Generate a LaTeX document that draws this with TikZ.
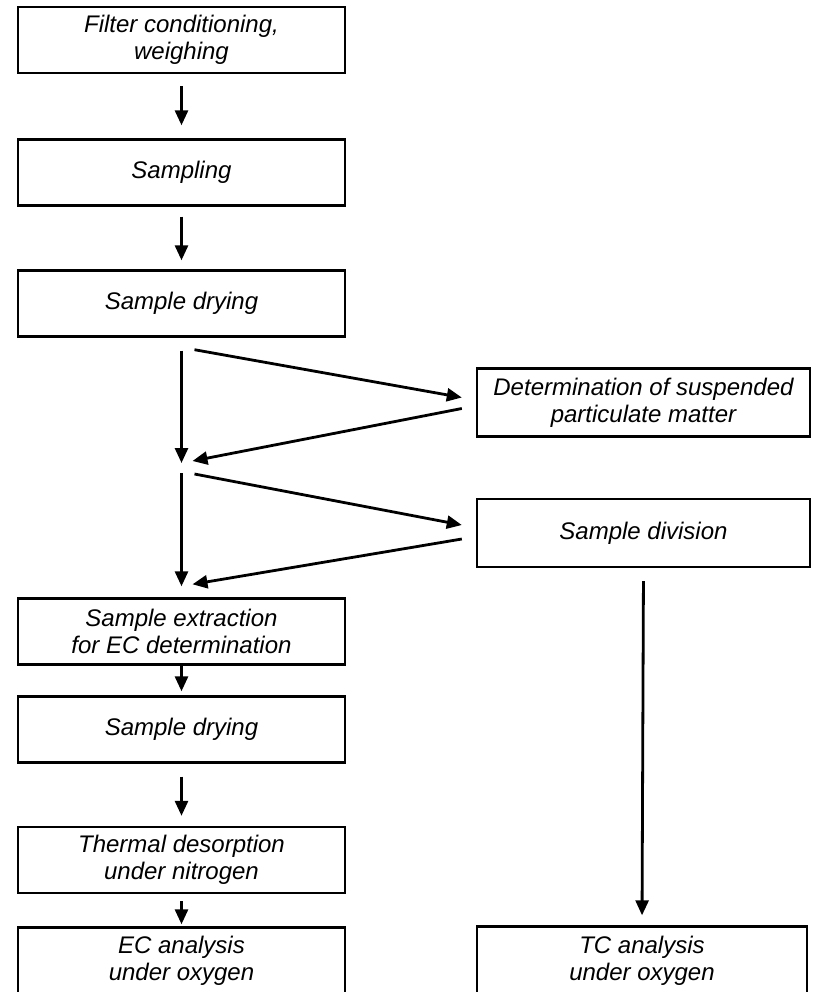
\documentclass[tikz,border=0pt]{standalone}
\usepackage{fontspec}
\setmainfont{Liberation Sans}
\usetikzlibrary{arrows.meta,calc}
\tikzset{
  lepes/.style={draw,line width=1.2pt,minimum width=163.5pt,minimum height=33pt,
    inner sep=0pt,align=center,font=\itshape\fontsize{12}{13.5}\selectfont},
  jobb/.style={lepes,minimum width=166.5pt,minimum height=34pt},
  nyil/.style={line width=1.4pt,-{Triangle[length=7.5pt,width=6.5pt]}},
}

\begin{document}
\begin{tikzpicture}[x=0.5pt,y=-0.5pt]
  \useasboundingbox (0,0) rectangle (816,992);
  % bal oszlop
  \node[lepes] (szuro) at (181.5,40) {Filter conditioning,\\weighing};
  \node[lepes] (mint) at (181.5,172.5) {Sampling};
  \node[lepes] (szar1) at (181.5,303.5) {Sample drying};
  \node[lepes] (extr) at (181.5,631.5) {Sample extraction\\for EC determination};
  \node[lepes] (szar2) at (181.5,729.5) {Sample drying};
  \node[lepes] (deszo) at (181.5,860) {Thermal desorption\\under nitrogen};
  \node[lepes] (ec) at (181.5,960.5) {EC analysis\\under oxygen};
  % jobb oszlop
  \node[jobb] (lebeg) at (643.5,402.5) {Determination of suspended\\particulate matter};
  \node[jobb] (oszt) at (643.5,533) {Sample division};
  \node[jobb,minimum width=165pt] (tc) at (642,960.5) {TC analysis\\under oxygen};
  \coordinate (j1) at (181.5,468);

  \draw[nyil,shorten <=6pt,shorten >=6.5pt] (szuro.south) -- (mint.north);
  \draw[nyil,shorten <=5pt,shorten >=4.5pt] (mint.south) -- (szar1.north);
  \draw[nyil] ($(szar1.south)+(0,13)$) -- ($(j1)+(0,-5)$);
  \draw[nyil] ($(j1)+(0,5)$) -- ($(extr.north)+(0,-11)$);
  \draw[nyil] ($(szar1.south)+(13,12)$) -- ($(lebeg.west)+(-14,-5)$);
  \draw[nyil] ($(lebeg.west)+(-14,6)$) -- ($(j1)+(11,-7)$);
  \draw[nyil] ($(j1)+(13,6)$) -- ($(oszt.west)+(-14,-8)$);
  \draw[nyil] ($(oszt.west)+(-14,6)$) -- ($(extr.north)+(11,-13)$);
  \draw[nyil,shorten >=2pt] (extr.south) -- (szar2.north);
  \draw[nyil,shorten <=6.5pt,shorten >=5pt] (szar2.south) -- (deszo.north);
  \draw[nyil,shorten <=3.5pt,shorten >=1pt] (deszo.south) -- (ec.north);
  \draw[nyil,shorten <=6.5pt,shorten >=5pt] (oszt.south) -- (tc.north);
\end{tikzpicture}
\end{document}
